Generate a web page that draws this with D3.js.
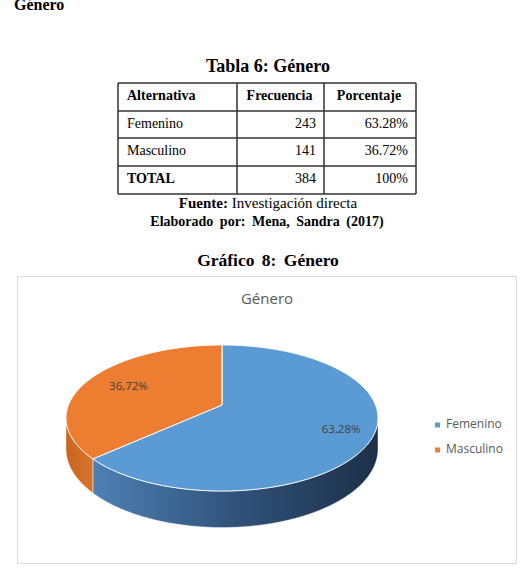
<!DOCTYPE html>
<html><head><meta charset="utf-8">
<script src="https://cdn.jsdelivr.net/npm/d3@7"></script>
<style>body{margin:0;background:#fff}svg{display:block}</style>
</head><body><svg id="c" width="521" height="569"></svg>
<script>
// ---- data ----
const categories = ["Femenino", "Masculino"];
const frecuencias = [243, 141];
const porcentajes = ["63.28%", "36.72%"];
const pieValues = [63.28, 36.72];
const pieLabels = ["63,28%", "36,72%"];
const headers = ["Alternativa", "Frecuencia", "Porcentaje"];
const totalRow = ["TOTAL", "384", "100%"];
const colors = ["#5B9BD5", "#ED7D31"];

const svg = d3.select("#c");
const serif = "'Liberation Serif','Times New Roman',serif";
const sans = "'Open Sans','Noto Sans',sans-serif";

// ---- header texts ----
svg.append("text").attr("x", 14).attr("y", 10).attr("font-family", serif)
  .attr("font-weight", "bold").attr("font-size", 16).attr("fill", "#000").text("Género");
svg.append("text").attr("x", 268).attr("y", 72).attr("text-anchor", "middle")
  .attr("font-family", serif).attr("font-weight", "bold").attr("font-size", 18).text("Tabla  6: Género");

// ---- table ----
const colX = [118, 237, 324, 416];
const rowY = [83, 111, 138, 166, 194];
const tg = svg.append("g").attr("font-family", serif).attr("font-size", 14).attr("fill", "#000");
rowY.forEach(y => tg.append("line").attr("x1", colX[0]).attr("x2", colX[3]).attr("y1", y).attr("y2", y)
  .attr("stroke", "#333").attr("stroke-width", 1.5));
colX.forEach(x => tg.append("line").attr("x1", x).attr("x2", x).attr("y1", rowY[0]).attr("y2", rowY[4])
  .attr("stroke", "#333").attr("stroke-width", 1.5));
const rows = [headers].concat(categories.map((c, i) => [c, String(frecuencias[i]), porcentajes[i]])).concat([totalRow]);
rows.forEach((r, ri) => {
  const by = rowY[ri] + 17;
  r.forEach((t, ci) => {
    const bold = ri === 0 || (ri === rows.length - 1 && ci === 0);
    const txt = tg.append("text").attr("y", by).text(t).attr("font-weight", bold ? "bold" : "normal");
    if (ci === 0) txt.attr("x", colX[0] + 9);
    else if (ri === 0) txt.attr("x", (colX[ci] + colX[ci + 1]) / 2 - 1).attr("text-anchor", "middle");
    else txt.attr("x", colX[ci + 1] - 8).attr("text-anchor", "end");
  });
});

const f = svg.append("text").attr("x", 268).attr("y", 208).attr("text-anchor", "middle")
  .attr("font-family", serif).attr("font-size", 15);
f.append("tspan").attr("font-weight", "bold").text("Fuente:");
f.append("tspan").text("  Investigación directa");
svg.append("text").attr("x", 267).attr("y", 226).attr("text-anchor", "middle")
  .attr("font-family", serif).attr("font-weight", "bold").attr("font-size", 14).attr("word-spacing", 3)
  .text("Elaborado por: Mena, Sandra (2017)");
svg.append("text").attr("x", 268).attr("y", 266).attr("text-anchor", "middle")
  .attr("font-family", serif).attr("font-weight", "bold").attr("font-size", 17.5).attr("word-spacing", 3)
  .text("Gráfico 8: Género");

// ---- chart frame ----
svg.append("rect").attr("x", 17.5).attr("y", 276.5).attr("width", 499).attr("height", 287)
  .attr("fill", "#fff").attr("stroke", "#d9d9d9");
svg.append("text").attr("x", 267).attr("y", 304).attr("text-anchor", "middle")
  .attr("font-family", sans).attr("font-size", 15).attr("fill", "#595959").text("Género");

// ---- 3D pie ----
const P = {cx: 222, cy: 419, A: 153.5, B: 73.2, E: -0.178, F: -14, D: 30};
function proj(th, r, down) {
  const X = r * Math.sin(th), Z = -r * Math.cos(th);
  const w = 1 + P.E * Z;
  return [P.cx + P.A * X / w, P.cy + (P.B * Z + P.F) / w + (down ? P.D / w : 0)];
}
const arcs = d3.pie().sort(null).value(d => d)(pieValues);
const samples = d3.range(0, 2 * Math.PI, Math.PI / 720);
const thR = samples[d3.maxIndex(samples, t => proj(t, 1)[0])];
const thL = samples[d3.minIndex(samples, t => proj(t, 1)[0])];
const line = d3.line();
const defs = svg.append("defs");
const gb = defs.append("linearGradient").attr("id", "sideB").attr("gradientUnits", "userSpaceOnUse")
  .attr("x1", 93).attr("x2", 378).attr("y1", 0).attr("y2", 0);
gb.append("stop").attr("offset", 0).attr("stop-color", "#4E80B4");
gb.append("stop").attr("offset", 0.5).attr("stop-color", "#30527A");
gb.append("stop").attr("offset", 1).attr("stop-color", "#1D3049");
const go = defs.append("linearGradient").attr("id", "sideO").attr("gradientUnits", "userSpaceOnUse")
  .attr("x1", 66).attr("x2", 93).attr("y1", 0).attr("y2", 0);
go.append("stop").attr("offset", 0).attr("stop-color", "#C9661F");
go.append("stop").attr("offset", 1).attr("stop-color", "#D7742C");
const sideFill = ["url(#sideB)", "url(#sideO)"];

const pg = svg.append("g");
arcs.forEach((a, i) => {
  const s0 = Math.max(a.startAngle, thR), s1 = Math.min(a.endAngle, thL);
  if (s1 > s0) {
    const ts = d3.range(s0, s1, 0.01).concat([s1]);
    const pts = ts.map(t => proj(t, 1)).concat(ts.slice().reverse().map(t => proj(t, 1, true)));
    pg.append("path").attr("d", line(pts) + "Z").attr("fill", sideFill[i])
      .attr("stroke", "#fff").attr("stroke-width", 0.6).attr("stroke-opacity", 0.7);
  }
});
arcs.forEach((a, i) => {
  const ts = d3.range(a.startAngle, a.endAngle, 0.01).concat([a.endAngle]);
  const pts = [proj(0, 0)].concat(ts.map(t => proj(t, 1)));
  pg.append("path").attr("d", line(pts) + "Z").attr("fill", colors[i])
    .attr("stroke", "#fff").attr("stroke-width", 1).attr("stroke-linejoin", "round");
});
const labelR = [0.8, 0.7];
arcs.forEach((a, i) => {
  const m = (a.startAngle + a.endAngle) / 2;
  const p = proj(m, labelR[i]);
  pg.append("text").attr("x", p[0]).attr("y", p[1] + 1).attr("text-anchor", "middle")
    .attr("dominant-baseline", "middle").attr("font-family", sans).attr("font-size", 11.5)
    .attr("fill", "#404040").text(pieLabels[i]);
});

// ---- legend ----
const lg = svg.append("g");
categories.forEach((c, i) => {
  const y = 425 + i * 25;
  lg.append("rect").attr("x", 435).attr("y", y - 2.5).attr("width", 5).attr("height", 5).attr("fill", colors[i]);
  lg.append("text").attr("x", 446).attr("y", y).attr("dominant-baseline", "middle")
    .attr("font-family", sans).attr("font-size", 12).attr("fill", "#595959").text(c);
});
</script></body></html>
